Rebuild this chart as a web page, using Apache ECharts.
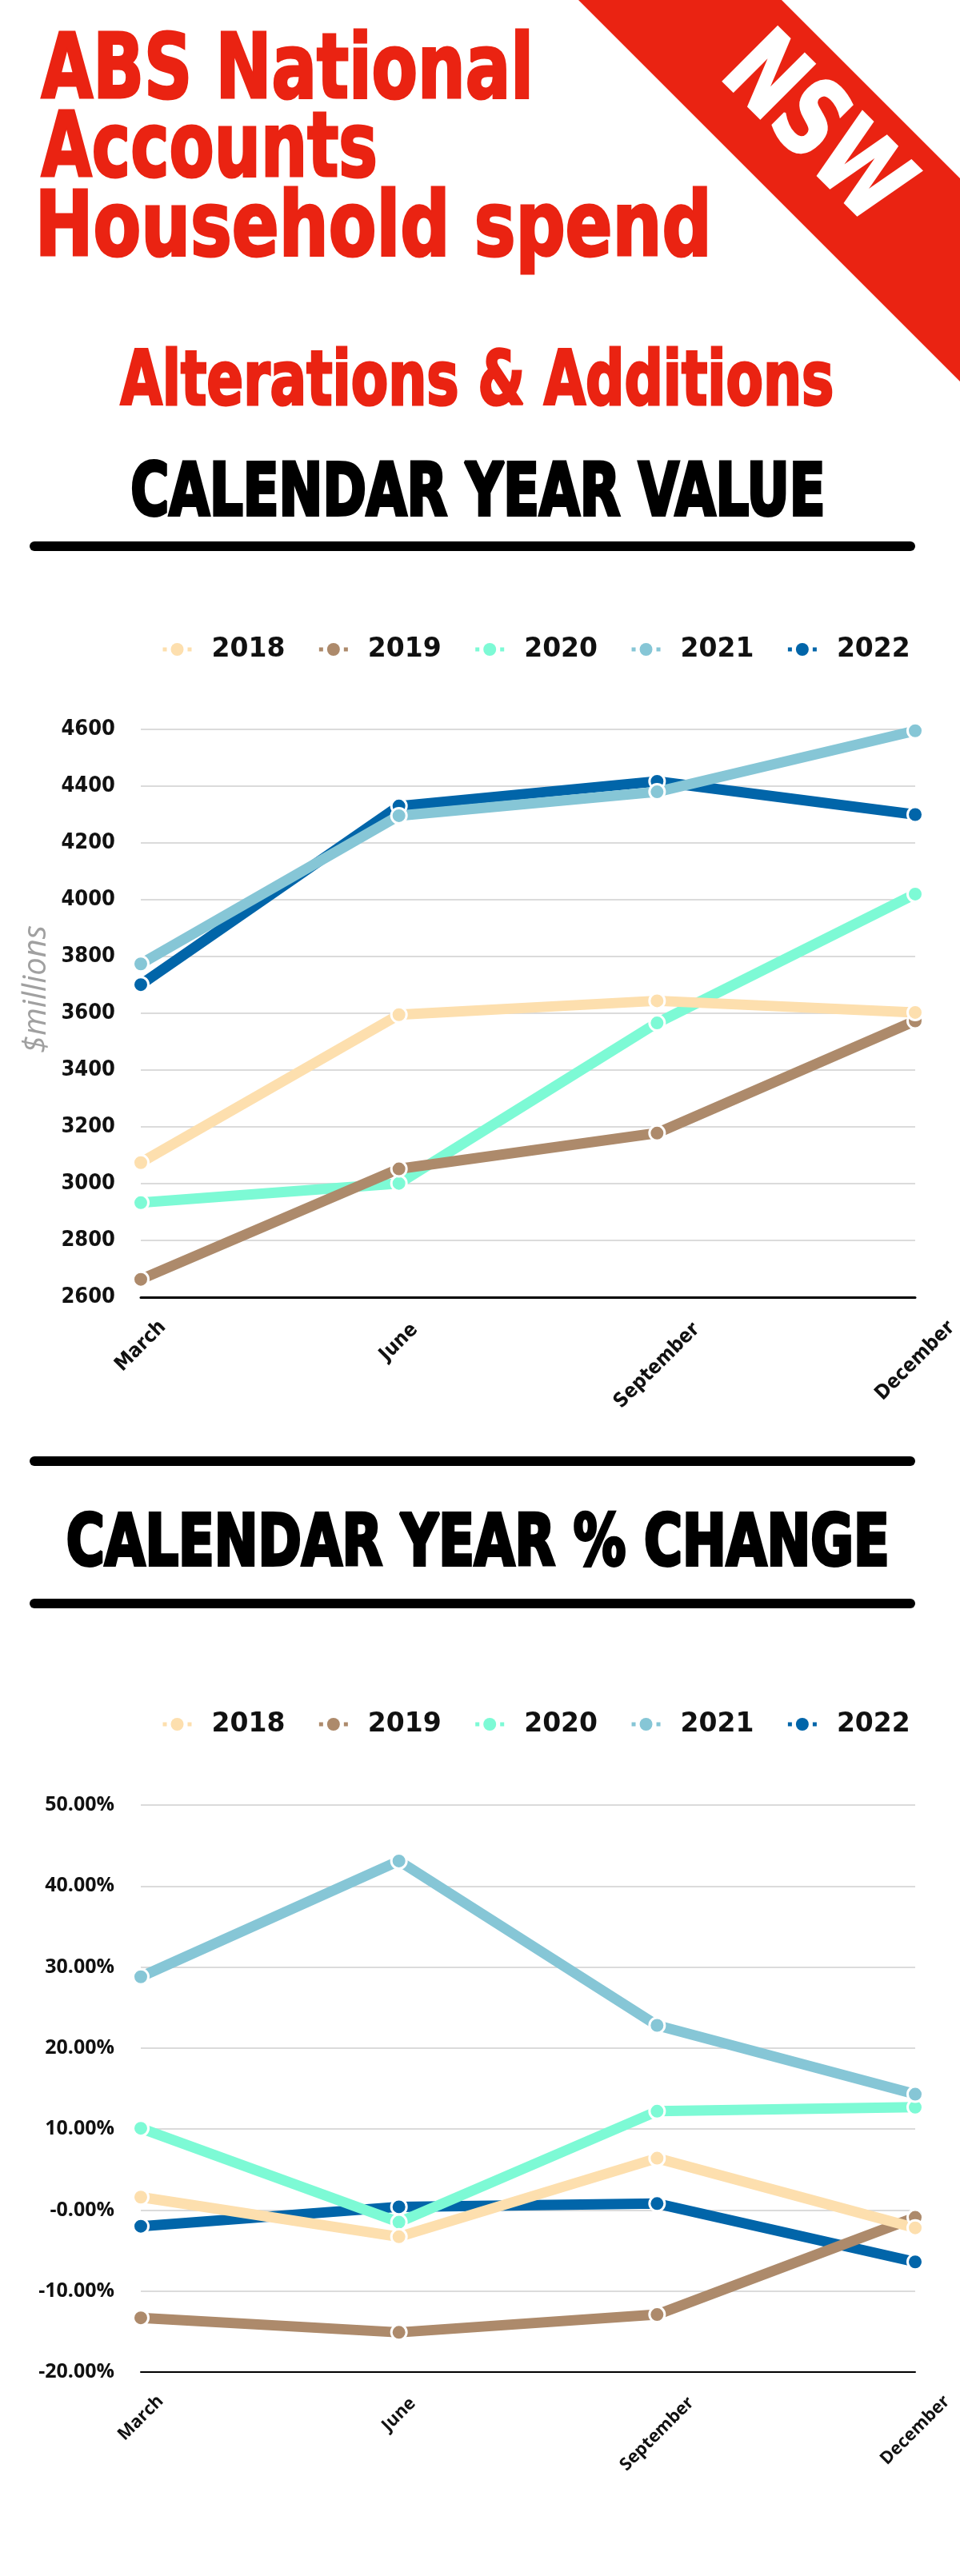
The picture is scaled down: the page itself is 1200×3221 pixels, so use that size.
<!DOCTYPE html>
<html>
<head>
<meta charset="utf-8">
<title>ABS National Accounts Household spend - NSW</title>
<script src="https://cdn.jsdelivr.net/npm/echarts@6/dist/echarts.min.js"></script>
<style>
  html, body { margin: 0; padding: 0; background: #fff; }
  #chart { width: 1200px; height: 3221px; }
</style>
</head>
<body>
<div id="chart"></div>
<script>
// 数据
const months = ["March", "June", "September", "December"];
const years = ["2018", "2019", "2020", "2021", "2022"];

// calendar year value, $millions
const value2018 = [3074, 3595, 3644, 3603];
const value2019 = [2663, 3052, 3178, 3573];
const value2020 = [2933, 3001, 3566, 4020];
const value2021 = [3774, 4296, 4380, 4595];
const value2022 = [3701, 4330, 4417, 4300];

// calendar year % change
const pct2018 = [1.6, -3.3, 6.4, -2.2];
const pct2019 = [-13.3, -15.1, -12.9, -0.9];
const pct2020 = [10.1, -1.5, 12.2, 12.7];
const pct2021 = [28.8, 43.1, 22.8, 14.3];
const pct2022 = [-2.0, 0.4, 0.8, -6.4];

const pctTickValues = [-20, -10, 0, 10, 20, 30, 40, 50];
const pctTickLabels = ["-20.00%", "-10.00%", "-0.00%", "10.00%", "20.00%", "30.00%", "40.00%", "50.00%"];

const valueData = { 2018: value2018, 2019: value2019, 2020: value2020, 2021: value2021, 2022: value2022 };
const pctData = { 2018: pct2018, 2019: pct2019, 2020: pct2020, 2021: pct2021, 2022: pct2022 };

const colors = { 2018: "#fddfae", 2019: "#ad8a6b", 2020: "#7dfad5", 2021: "#86c6d6", 2022: "#0165a9" };
// 绘制顺序（后画的在上面）
const drawOrder = ["2022", "2020", "2019", "2018", "2021"];

const RED = "#ea2312";
const NARROW = '"Liberation Sans Narrow", "DejaVu Sans Condensed", "Arial Narrow", sans-serif';

/**
 * 文字测量
 */
const measureCtx = document.createElement("canvas").getContext("2d");

function heading(text, color, capTop, baseline, left, right, stroke) {
  measureCtx.textBaseline = "alphabetic";
  measureCtx.font = "bold 100px " + NARROW;
  const capRatio = measureCtx.measureText("H").actualBoundingBoxAscent / 100;
  const size = (baseline - capTop - stroke) / capRatio;
  const font = "bold " + size.toFixed(1) + "px " + NARROW;
  measureCtx.font = font;
  const m = measureCtx.measureText(text);
  const ink = m.actualBoundingBoxLeft + m.actualBoundingBoxRight;
  const scale = (right - left - stroke) / ink;
  measureCtx.textBaseline = "middle";
  const midAsc = measureCtx.measureText("H").actualBoundingBoxAscent;
  measureCtx.textBaseline = "alphabetic";
  return {
    type: "text",
    x: left + stroke / 2 + m.actualBoundingBoxLeft * scale,
    y: capTop + stroke / 2 + midAsc,
    scaleX: scale,
    silent: true,
    style: {
      text: text,
      font: font,
      fill: color,
      stroke: color,
      lineWidth: stroke,
      lineJoin: "round",
      align: "left",
      textAlign: "left",
      verticalAlign: "middle",
      textVerticalAlign: "middle",
    },
  };
}

function nswText() {
  measureCtx.textBaseline = "alphabetic";
  measureCtx.font = "bold 100px " + NARROW;
  const capRatio = measureCtx.measureText("H").actualBoundingBoxAscent / 100;
  const size = 96 / capRatio;
  const font = "bold " + size.toFixed(1) + "px " + NARROW;
  measureCtx.font = font;
  const m = measureCtx.measureText("NSW");
  const scale = 255 / (m.actualBoundingBoxLeft + m.actualBoundingBoxRight);
  return {
    type: "text",
    x: 1016,
    y: 165,
    rotation: -Math.PI / 4,
    scaleX: scale,
    silent: true,
    style: {
      text: "NSW",
      font: font,
      fill: "#fff",
      stroke: "#fff",
      lineWidth: 3,
      align: "center",
      textAlign: "center",
      verticalAlign: "middle",
      textVerticalAlign: "middle",
    },
  };
}

function rule(y) {
  return {
    type: "line",
    silent: true,
    shape: { x1: 43, y1: y, x2: 1138, y2: y },
    style: { stroke: "#000", lineWidth: 12, lineCap: "round" },
  };
}

function legendOpt(top) {
  return {
    data: years,
    left: 201,
    top: top,
    padding: 0,
    orient: "horizontal",
    itemWidth: 36,
    itemHeight: 20,
    itemGap: 40,
    selectedMode: false,
    itemStyle: { borderWidth: 0 },
    lineStyle: { width: 5, type: [5, 26], cap: "butt" },
    textStyle: {
      fontFamily: "DejaVu Sans",
      fontWeight: "bold",
      fontSize: 33,
      color: "#111",
      width: 90,
      padding: [0, 0, 0, 20],
    },
  };
}

function xAxisOpt(gridIndex, lineWidth) {
  return {
    gridIndex: gridIndex,
    type: "category",
    boundaryGap: false,
    data: months,
    axisLine: { onZero: false, lineStyle: { color: "#000", width: lineWidth } },
    axisTick: { show: false },
    splitLine: { show: false },
    // 斜标签另外画（中心对准刻度）
    axisLabel: { show: false },
  };
}

function makeSeries(dataMap, axisIndex) {
  return drawOrder.map((y) => {
    return {
      name: y,
      type: "line",
      xAxisIndex: axisIndex,
      yAxisIndex: axisIndex,
      data: dataMap[y],
      symbol: "circle",
      symbolSize: 19,
      showSymbol: true,
      color: colors[y],
      lineStyle: { width: 13, color: colors[y], cap: "round", join: "round" },
      itemStyle: { color: colors[y], borderColor: "#fff", borderWidth: 3 },
      emphasis: { disabled: true },
    };
  });
}

const myChart = echarts.init(document.getElementById("chart"));

const baseGraphic = [
  {
    type: "polygon",
    silent: true,
    shape: { points: [[723, 0], [977, 0], [1200, 223], [1200, 477]] },
    style: { fill: RED },
  },
  nswText(),
  heading("ABS National", RED, 38, 123, 50, 662, 3),
  heading("Accounts", RED, 136, 221, 50, 470, 3),
  heading("Household spend", RED, 235.5, 320.5, 50, 884, 3),
  heading("Alterations & Additions", RED, 435, 507, 149, 1041, 3),
  heading("CALENDAR YEAR VALUE", "#000", 575, 645, 164.5, 1029, 4),
  rule(683),
  rule(1827),
  heading("CALENDAR YEAR % CHANGE", "#000", 1889, 1958, 84, 1109, 4),
  rule(2005),
];

const option = {
  animation: false,
  backgroundColor: "#fff",
  graphic: baseGraphic,
  legend: [legendOpt(795.5), legendOpt(2139.5)],
  grid: [
    { left: 176, right: 56, top: 912, height: 710, outerBoundsMode: "none" },
    { left: 176, right: 56, top: 2257, height: 709, outerBoundsMode: "none" },
  ],
  xAxis: [xAxisOpt(0, 3), xAxisOpt(1, 2)],
  yAxis: [
    {
      gridIndex: 0,
      type: "value",
      min: 2600,
      max: 4600,
      interval: 200,
      name: "$millions",
      nameLocation: "middle",
      nameGap: 102,
      nameRotate: 90,
      nameTextStyle: {
        color: "#a0a0a0",
        fontFamily: "Open Sans",
        fontStyle: "italic",
        fontSize: 40,
        padding: [0, 0, 0, 60],
      },
      axisLine: { show: false },
      axisTick: { show: false },
      axisLabel: {
        margin: 32,
        color: "#111",
        fontFamily: NARROW,
        fontWeight: "bold",
        fontSize: 27,
        formatter: (v) => String(v),
      },
      splitLine: { lineStyle: { color: "#cfcfcf", width: 1.5 } },
    },
    {
      gridIndex: 1,
      type: "value",
      min: pctTickValues[0],
      max: pctTickValues[pctTickValues.length - 1],
      interval: 10,
      axisLine: { show: false },
      axisTick: { show: false },
      axisLabel: {
        margin: 33,
        color: "#111",
        fontFamily: "Open Sans",
        fontWeight: "bold",
        fontSize: 25,
        formatter: (v) => {
          const i = pctTickValues.indexOf(Math.round(v));
          return i >= 0 ? pctTickLabels[i] : "";
        },
      },
      splitLine: { lineStyle: { color: "#cfcfcf", width: 1.5 } },
    },
  ],
  series: makeSeries(valueData, 0).concat(makeSeries(pctData, 1)),
};

myChart.setOption(option);

// 月份标签：按坐标轴换算位置，旋转45度，中心对准刻度
function monthGraphics(axisIndex, yMin, font, size) {
  const fontStr = "bold " + size + "px " + font;
  measureCtx.font = fontStr;
  measureCtx.textBaseline = "middle";
  const axisY = myChart.convertToPixel({ yAxisIndex: axisIndex }, yMin);
  return months.map((name, i) => {
    const m = measureCtx.measureText(name);
    const len = m.actualBoundingBoxLeft + m.actualBoundingBoxRight;
    const h = m.actualBoundingBoxAscent + m.actualBoundingBoxDescent;
    const x = myChart.convertToPixel({ xAxisIndex: axisIndex }, i);
    return {
      type: "text",
      x: x,
      y: axisY + 28 + (len + h) / (2 * Math.SQRT2),
      rotation: Math.PI / 4,
      silent: true,
      style: {
        text: name,
        font: fontStr,
        fill: "#111",
        align: "center",
        textAlign: "center",
        verticalAlign: "middle",
        textVerticalAlign: "middle",
      },
    };
  });
}

myChart.setOption({
  graphic: baseGraphic
    .concat(monthGraphics(0, 2600, NARROW, 25))
    .concat(monthGraphics(1, pctTickValues[0], '"Open Sans"', 22)),
});

window.addEventListener("resize", () => {
  myChart.resize();
});
</script>
</body>
</html>
